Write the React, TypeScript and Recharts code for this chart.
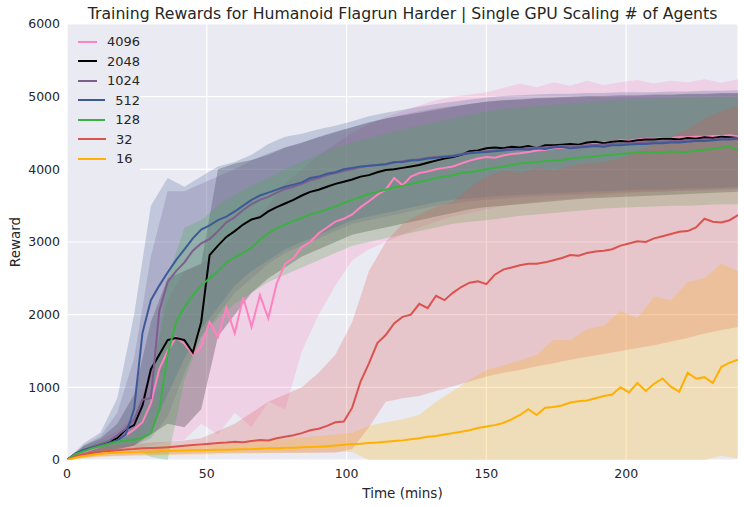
import { ComposedChart, Line, Area, XAxis, YAxis, CartesianGrid, Legend } from 'recharts'

// time (mins) for the mean curves, every 3 minutes
const lineTimes = [
  0, 3, 6, 9, 12, 15, 18, 21, 24, 27, 30, 33, 36, 39, 42, 45, 48, 51, 54, 57,
  60, 63, 66, 69, 72, 75, 78, 81, 84, 87, 90, 93, 96, 99, 102, 105, 108, 111, 114, 117,
  120, 123, 126, 129, 132, 135, 138, 141, 144, 147, 150, 153, 156, 159, 162, 165, 168, 171, 174, 177,
  180, 183, 186, 189, 192, 195, 198, 201, 204, 207, 210, 213, 216, 219, 222, 225, 228, 231, 234, 237,
  240,
]

// time (mins) for the shaded min/max bands, every 6 minutes
const bandTimes = [
  0, 6, 12, 18, 24, 30, 36, 42, 48, 54, 60, 66, 72, 78, 84, 90, 96, 102, 108, 114,
  120, 126, 132, 138, 144, 150, 156, 162, 168, 174, 180, 186, 192, 198, 204, 210, 216, 222, 228, 234,
  240,
]

const reward4096 = [
  0, 70, 110, 150, 190, 230, 290, 340, 420, 520, 780,
  1250, 1500, 1690, 1600, 1450, 1560, 1900, 1690, 2100, 1745,
  2240, 1830, 2270, 1950, 2430, 2700, 2780, 2930, 3000, 3120,
  3200, 3280, 3320, 3380, 3480, 3560, 3650, 3720, 3880, 3780,
  3900, 3950, 3970, 4000, 4020, 4040, 4080, 4120, 4150, 4170,
  4160, 4190, 4210, 4220, 4240, 4260, 4270, 4290, 4300, 4310,
  4320, 4330, 4350, 4370, 4380, 4400, 4390, 4410, 4420, 4420,
  4430, 4430, 4440, 4440, 4450, 4450, 4460, 4460, 4470, 4450,
]
const reward2048 = [
  0, 80, 130, 170, 200, 250, 300, 420, 480, 750, 1250,
  1450, 1650, 1680, 1650, 1480, 1900, 2820, 2950, 3070, 3150,
  3240, 3310, 3340, 3420, 3480, 3530, 3580, 3640, 3690, 3720,
  3760, 3800, 3830, 3860, 3900, 3920, 3960, 3990, 4000, 4020,
  4040, 4060, 4090, 4120, 4150, 4170, 4200, 4250, 4260, 4290,
  4300, 4290, 4310, 4300, 4320, 4290, 4330, 4330, 4340, 4350,
  4340, 4370, 4380, 4360, 4380, 4390, 4380, 4400, 4410, 4410,
  4420, 4420, 4410, 4430, 4420, 4440, 4430, 4450, 4440, 4430,
]
const reward1024 = [
  0, 85, 140, 180, 220, 260, 340, 430, 560, 830, 850,
  2050, 2450, 2600, 2720, 2880, 2980, 3040, 3150, 3270, 3340,
  3440, 3520, 3580, 3620, 3680, 3730, 3760, 3800, 3850, 3880,
  3920, 3950, 3980, 4000, 4030, 4050, 4060, 4070, 4090, 4110,
  4130, 4140, 4160, 4170, 4180, 4190, 4210, 4230, 4240, 4250,
  4260, 4270, 4280, 4280, 4290, 4300, 4300, 4310, 4320, 4320,
  4320, 4330, 4340, 4340, 4350, 4350, 4360, 4370, 4370, 4380,
  4380, 4390, 4390, 4400, 4400, 4410, 4410, 4420, 4420, 4430,
]
const reward512 = [
  0, 90, 140, 170, 200, 230, 270, 350, 700, 1750, 2200,
  2400, 2580, 2750, 2900, 3050, 3170, 3230, 3300, 3350, 3420,
  3500, 3580, 3640, 3680, 3720, 3760, 3790, 3820, 3880, 3900,
  3940, 3960, 4000, 4020, 4040, 4050, 4060, 4070, 4100, 4100,
  4120, 4130, 4150, 4160, 4170, 4180, 4200, 4220, 4230, 4240,
  4250, 4260, 4270, 4280, 4270, 4290, 4280, 4300, 4310, 4290,
  4300, 4310, 4320, 4310, 4330, 4330, 4340, 4350, 4350, 4360,
  4360, 4370, 4370, 4380, 4390, 4390, 4400, 4410, 4410, 4420,
]
const reward128 = [
  0, 80, 120, 160, 190, 220, 250, 270, 280, 310, 370,
  690, 1450, 1900, 2100, 2270, 2400, 2500, 2600, 2720, 2790,
  2850, 2920, 3030, 3120, 3190, 3240, 3290, 3330, 3380, 3410,
  3450, 3490, 3540, 3580, 3620, 3660, 3690, 3720, 3750, 3770,
  3800, 3830, 3850, 3880, 3900, 3920, 3950, 3960, 3980, 4000,
  4020, 4040, 4060, 4080, 4090, 4100, 4110, 4120, 4130, 4150,
  4160, 4170, 4180, 4190, 4200, 4210, 4220, 4230, 4230, 4240,
  4230, 4250, 4240, 4240, 4260, 4270, 4280, 4300, 4310, 4270,
]
const reward32 = [
  0, 50, 80, 100, 115, 125, 135, 145, 150, 160, 165,
  170, 175, 185, 195, 205, 215, 225, 235, 240, 250,
  245, 260, 275, 270, 300, 320, 340, 370, 410, 430,
  470, 520, 530, 720, 1080, 1330, 1610, 1720, 1880, 1970,
  2000, 2150, 2090, 2260, 2200, 2300, 2380, 2440, 2460, 2420,
  2550, 2620, 2650, 2680, 2700, 2700, 2720, 2750, 2780, 2820,
  2810, 2850, 2870, 2880, 2900, 2950, 2980, 3010, 3000, 3050,
  3080, 3110, 3140, 3150, 3200, 3320, 3280, 3270, 3300, 3370,
]
const reward16 = [
  0, 30, 55, 70, 85, 95, 100, 105, 110, 115, 115,
  120, 125, 128, 130, 133, 135, 138, 140, 142, 145,
  148, 150, 155, 160, 163, 167, 170, 175, 178, 182,
  190, 200, 210, 220, 225, 235, 240, 250, 260, 270,
  285, 300, 320, 330, 350, 370, 390, 410, 440, 460,
  480, 510, 560, 620, 700, 620, 720, 730, 750, 790,
  810, 820, 850, 880, 900, 1000, 930, 1060, 950, 1050,
  1120, 1010, 940, 1200, 1120, 1140, 1060, 1280, 1340, 1380,
]

const band4096Low = [
  0, 50, 80, 120, 150, 200, 250, 280, 500, 350, 650,
  450, 800, 700, 1500, 2000, 2400, 2750, 2900, 3000, 3100,
  3200, 3280, 3350, 3400, 3450, 3500, 3530, 3560, 3580, 3600,
  3620, 3640, 3660, 3680, 3690, 3700, 3710, 3720, 3730, 3740,
]
const band4096High = [
  0, 180, 280, 400, 600, 1200, 2200, 2600, 2700, 2900, 3100,
  3300, 3500, 3800, 4000, 4200, 4350, 4500, 4620, 4720, 4800,
  4880, 4950, 5000, 5030, 5060, 5120, 5180, 5130, 5200, 5150,
  5220, 5160, 5200, 5230, 5180, 5220, 5200, 5240, 5190, 5240,
]
const band2048Low = [
  0, 60, 100, 150, 200, 350, 500, 450, 700, 1700, 2000,
  2300, 2500, 2650, 2800, 2900, 3000, 3100, 3150, 3200, 3250,
  3300, 3350, 3400, 3450, 3480, 3500, 3520, 3540, 3560, 3580,
  3600, 3610, 3620, 3630, 3640, 3650, 3660, 3670, 3680, 3690,
]
const band2048High = [
  0, 200, 300, 500, 900, 1900, 2500, 2600, 2700, 4000, 4080,
  4130, 4200, 4300, 4370, 4440, 4510, 4580, 4640, 4700, 4740,
  4780, 4820, 4860, 4900, 4930, 4950, 4960, 4980, 4990, 5000,
  5010, 5010, 5020, 5020, 5030, 5030, 5040, 5040, 5050, 5050,
]
const band1024Low = [
  0, 60, 100, 140, 200, 300, 600, 1200, 1700, 2000, 2300,
  2500, 2700, 2850, 2950, 3050, 3150, 3250, 3300, 3350, 3400,
  3450, 3500, 3530, 3560, 3580, 3600, 3620, 3630, 3640, 3650,
  3660, 3670, 3680, 3690, 3690, 3700, 3710, 3710, 3720, 3730,
]
const band1024High = [
  0, 200, 330, 650, 1400, 2800, 3700, 3700, 3800, 3900, 4000,
  4120, 4220, 4300, 4360, 4450, 4520, 4580, 4650, 4700, 4750,
  4800, 4840, 4870, 4900, 4930, 4950, 4960, 4970, 4980, 4990,
  5000, 5000, 5010, 5010, 5020, 5020, 5030, 5030, 5040, 5040,
]
const band512Low = [
  0, 70, 110, 150, 200, 400, 900, 1400, 1800, 2100, 2400,
  2600, 2750, 2900, 3000, 3100, 3200, 3300, 3350, 3400, 3450,
  3500, 3550, 3580, 3600, 3620, 3640, 3650, 3660, 3670, 3680,
  3690, 3700, 3710, 3720, 3720, 3730, 3740, 3740, 3750, 3760,
]
const band512High = [
  0, 230, 380, 850, 2000, 3500, 3880, 3760, 3900, 4040, 4100,
  4200, 4350, 4450, 4490, 4550, 4600, 4660, 4730, 4780, 4820,
  4860, 4900, 4930, 4960, 4990, 5010, 5020, 5030, 5040, 5040,
  5050, 5050, 5060, 5060, 5060, 5070, 5070, 5080, 5080, 5090,
]
const band128Low = [
  0, 60, 110, 150, 170, 40, 0, 1100, 1700, 1950, 2150,
  2300, 2450, 2550, 2650, 2750, 2850, 2950, 3000, 3050, 3100,
  3150, 3200, 3250, 3280, 3300, 3330, 3360, 3380, 3400, 3420,
  3440, 3460, 3470, 3480, 3490, 3500, 3500, 3510, 3520, 3520,
]
const band128High = [
  0, 180, 260, 320, 400, 900, 2500, 3200, 3300, 3500, 3650,
  3770, 3880, 4000, 4100, 4200, 4300, 4370, 4430, 4490, 4550,
  4600, 4650, 4700, 4750, 4800, 4830, 4850, 4870, 4890, 4910,
  4920, 4940, 4950, 4960, 4970, 4980, 4980, 4990, 5000, 5000,
]
const band32Low = [
  0, 30, 50, 60, 70, 75, 80, 85, 90, 95, 100,
  100, 100, 100, 100, 100, 100, 150, 450, 800, 850,
  880, 950, 1010, 1080, 1150, 1200, 1240, 1290, 1330, 1380,
  1420, 1460, 1500, 1540, 1580, 1630, 1680, 1740, 1790, 1830,
]
const band32High = [
  0, 130, 180, 200, 220, 240, 250, 270, 300, 400, 500,
  650, 800, 900, 1000, 1200, 1450, 1900, 2600, 3000, 3250,
  3380, 3480, 3550, 3750, 3900, 3980, 3950, 4020, 3980, 4050,
  4080, 4100, 4150, 4250, 4350, 4450, 4550, 4700, 4800, 4880,
]
const band16Low = [
  0, 20, 40, 50, 55, 60, 65, 70, 75, 80, 85,
  90, 95, 100, 100, 105, 110, 110, 0, 0, 0,
  0, 0, 0, 0, 0, 0, 0, 0, 0, 0,
  0, 0, 0, 0, 0, 0, 0, 0, 60, 20,
]
const band16High = [
  0, 80, 130, 150, 170, 180, 190, 200, 210, 220, 230,
  250, 270, 290, 310, 330, 350, 370, 470, 520, 560,
  620, 800, 950, 1100, 1240, 1300, 1370, 1450, 1650, 1650,
  1800, 1850, 2050, 1950, 2250, 2200, 2450, 2500, 2700, 2600,
]

const agentCounts = ['4096', '2048', '1024', '512', '128', '32', '16']
const seriesColors = ['#ff82c0', '#000000', '#7e5e8e', '#3d5a98', '#3cb043', '#db524e', '#ffb000']
const rewards = [reward4096, reward2048, reward1024, reward512, reward128, reward32, reward16]
const bandLows = [band4096Low, band2048Low, band1024Low, band512Low, band128Low, band32Low, band16Low]
const bandHighs = [band4096High, band2048High, band1024High, band512High, band128High, band32High, band16High]

const xTicks = [0, 50, 100, 150, 200]
const yTicks = [0, 1000, 2000, 3000, 4000, 5000, 6000]

const TEXT = '#262626'
const FONT = '"DejaVu Sans", sans-serif'

const series = agentCounts.map((name, i) => ({
  name,
  color: seriesColors[i],
  line: lineTimes.map((t, j) => ({ t, v: rewards[i][j] })),
  band: bandTimes.map((t, j) => ({ t, range: [bandLows[i][j], bandHighs[i][j]] })),
}))

function YTitle({ viewBox }: any) {
  const cx = viewBox.x + 15
  const cy = viewBox.y + viewBox.height / 2
  return (
    <text x={cx} y={cy} transform={`rotate(-90 ${cx} ${cy})`} textAnchor="middle"
      dominantBaseline="central" fill={TEXT} fontSize={13.5} fontFamily={FONT}>
      Reward
    </text>
  )
}

function XTitle({ viewBox }: any) {
  return (
    <text x={viewBox.x + viewBox.width / 2} y={viewBox.y + 33} textAnchor="middle"
      dominantBaseline="central" fill={TEXT} fontSize={13.5} fontFamily={FONT}>
      Time (mins)
    </text>
  )
}

function renderLegend() {
  return (
    <div style={{ background: '#EAEAF2', padding: '2px 0 4px 10px', fontFamily: FONT, fontSize: 13, color: TEXT }}>
      {series.map((s) => (
        <div key={s.name} style={{ display: 'flex', alignItems: 'center', height: 19.5 }}>
          <span style={{ display: 'inline-block', width: 28, height: 2, background: s.color, marginRight: 10 }} />
          <span>{s.name}</span>
        </div>
      ))}
    </div>
  )
}

export default function App() {
  return (
    <div style={{ position: 'absolute', left: 0, top: 0, width: 744, height: 507, background: '#fff' }}>
      <div style={{ position: 'absolute', left: 67, width: 671, top: 4, textAlign: 'center',
        fontFamily: FONT, fontSize: 15.7, color: TEXT, lineHeight: '20px', whiteSpace: 'nowrap' }}>
        Training Rewards for Humanoid Flagrun Harder | Single GPU Scaling # of Agents
      </div>
      <ComposedChart width={744} height={507} margin={{ top: 24, right: 6, bottom: 0, left: 0 }}>
        <CartesianGrid stroke="#ffffff" strokeWidth={1.2} fill="#EAEAF2" fillOpacity={1} />
        <XAxis type="number" dataKey="t" domain={[0, 240]} ticks={xTicks} allowDataOverflow
          height={47} tickSize={0} tickMargin={9} axisLine={false} tickLine={false}
          tick={{ fill: TEXT, fontSize: 12.5, fontFamily: FONT }} label={<XTitle />} />
        <YAxis type="number" domain={[0, 6000]} ticks={yTicks} allowDataOverflow width={67}
          tickSize={0} tickMargin={7} axisLine={false} tickLine={false}
          tick={{ fill: TEXT, fontSize: 12.5, fontFamily: FONT }} label={<YTitle />} />
        {series.map((s) => (
          <Area key={'band' + s.name} data={s.band} dataKey="range" type="linear"
            stroke="none" fill={s.color} fillOpacity={0.24} isAnimationActive={false}
            legendType="none" />
        ))}
        {series.map((s) => (
          <Line key={'line' + s.name} data={s.line} dataKey="v" name={s.name} type="linear"
            stroke={s.color} strokeWidth={2} dot={false} activeDot={false} isAnimationActive={false} />
        ))}
        <Legend layout="vertical" align="center" verticalAlign="middle" content={renderLegend}
          wrapperStyle={{ left: 68, top: 30, width: 72, height: 'auto' }} />
      </ComposedChart>
    </div>
  )
}
